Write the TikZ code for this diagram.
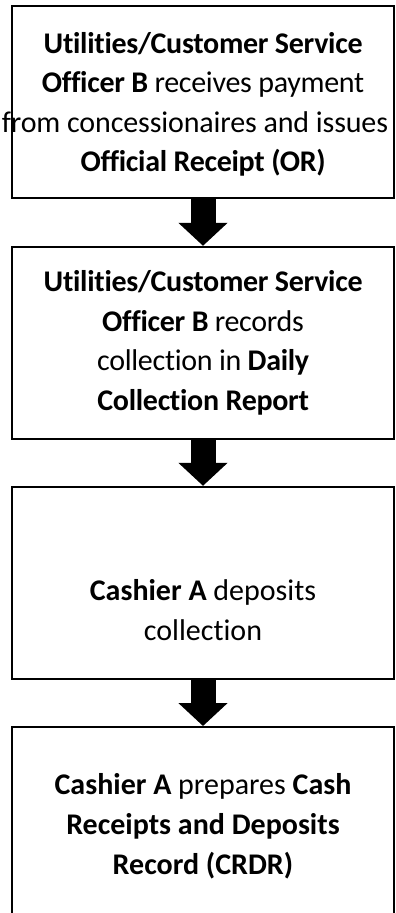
\documentclass[tikz,border=0pt]{standalone}
\usepackage{fontspec}
\setmainfont{Carlito}[Ligatures=NoCommon]
\usetikzlibrary{arrows.meta}
\begin{document}
\begin{tikzpicture}[x=1pt,y=-1pt,
  stepbox/.style={draw=black, line width=2pt, minimum width=382pt, minimum height=192pt, inner sep=0pt},
  flowarrow/.style={line width=25pt, -{Triangle[width=48pt,length=23pt]}},
  txt/.style={align=center, font=\fontsize{30}{40}\selectfont, inner sep=0pt},
  tighttxt/.style={txt, font=\fontsize{30}{39.5}\selectfont\addfontfeature{LetterSpace=-1}}
]
\useasboundingbox (0,0) rectangle (396,913);
\clip (0,0) rectangle (396,913);

% process steps
\node[stepbox] (b1) at (203,102.2) {};
\node[stepbox] (b2) at (203,342.8) {};
\node[stepbox] (b3) at (203,582.8) {};
\node[stepbox] (b4) at (203,823) {};

% step texts
\node[tighttxt] (t1) at ([yshift=-2pt]b1.center) {\textbf{Utilities/Customer Service}\\\textbf{Officer B} receives payment\\{\addfontfeature{LetterSpace=-0.4}from concessionaires and issues}\rule{16pt}{0pt}\\\textbf{Official Receipt (OR)}};
\node[tighttxt] (t2) at (b2.center) {\textbf{Utilities/Customer Service}\\\textbf{Officer B} records\\collection in \textbf{Daily}\\\textbf{Collection Report}};
\node[txt] (t3) at ([yshift=-27pt]b3.center) {\textbf{Cashier A} deposits\\collection};
\node[txt] (t4) at ([yshift=-3pt]b4.center) {\textbf{Cashier A} prepares \textbf{Cash}\\\textbf{Receipts and Deposits}\\\textbf{Record (CRDR)}};

% connectors
\draw[flowarrow] (b1.south) -- (b2.north);
\draw[flowarrow] (b2.south) -- (b3.north);
\draw[flowarrow] (b3.south) -- (b4.north);
\end{tikzpicture}
\end{document}
